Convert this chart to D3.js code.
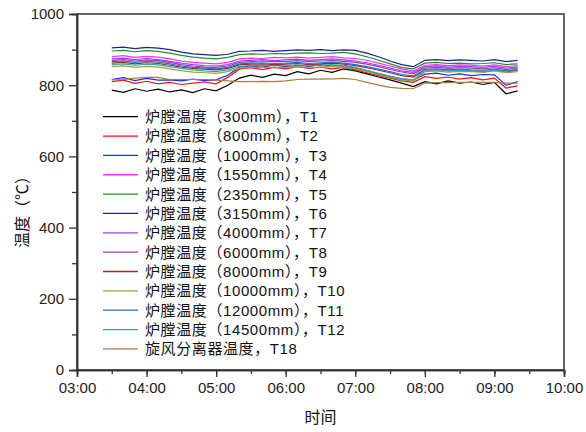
<!DOCTYPE html>
<html>
<head>
<meta charset="utf-8">
<script src="https://cdn.jsdelivr.net/npm/d3@7"></script>
<style>
  body { margin: 0; background: #fff; }
  svg { display: block; }
</style>
</head>
<body>
<svg id="chart"></svg>
<script>
// sample times (every 10 min)
const times = ["03:30","03:40","03:50","04:00","04:10","04:20","04:30","04:40","04:50","05:00",
  "05:10","05:20","05:30","05:40","05:50","06:00","06:10","06:20","06:30","06:40",
  "06:50","07:00","07:10","07:20","07:30","07:40","07:50","08:00","08:10","08:20",
  "08:30","08:40","08:50","09:00","09:10","09:20"];

const labels = ["炉膛温度（300mm），T1","炉膛温度（800mm），T2","炉膛温度（1000mm），T3",
  "炉膛温度（1550mm），T4","炉膛温度（2350mm），T5","炉膛温度（3150mm），T6",
  "炉膛温度（4000mm），T7","炉膛温度（6000mm），T8","炉膛温度（8000mm），T9",
  "炉膛温度（10000mm），T10","炉膛温度（12000mm），T11","炉膛温度（14500mm），T12",
  "旋风分离器温度，T18"];

const colors = ["#000000","#ff1010","#1030ff","#ff30ff","#209020","#202090",
  "#9a40ff","#a040a0","#a02828","#a0a030","#2a6ad0","#30a8a8","#b07c3a"];

const T1  = [786,780,790,783,789,781,787,779,790,784,800,820,828,822,831,827,838,832,842,836,846,840,832,823,815,806,796,810,804,812,806,809,802,808,776,784];
const T2  = [810,814,805,811,804,808,802,806,809,804,822,845,849,844,850,846,852,847,851,846,850,843,835,827,820,812,808,824,819,823,817,821,815,820,792,798];
const T3  = [816,821,813,819,814,815,812,817,813,815,828,850,854,851,857,852,856,853,858,854,855,848,840,832,825,818,814,831,834,828,832,827,830,829,800,810];
const T4  = [880,883,878,881,879,874,868,864,862,860,864,874,876,875,878,877,879,876,878,880,877,875,870,862,854,846,840,856,858,855,857,856,854,857,852,855];
const T5  = [896,898,894,897,895,890,884,879,876,874,878,886,888,887,889,888,890,891,889,890,892,888,880,870,860,850,846,862,864,861,862,860,861,863,858,860];
const T6  = [905,907,903,906,904,900,893,888,886,884,887,895,896,898,895,897,899,898,900,897,899,898,890,880,868,858,852,870,872,869,871,870,868,872,866,870];
const T7  = [874,876,872,875,872,867,862,858,855,854,858,868,870,872,869,871,873,870,872,874,871,868,863,856,848,840,836,852,854,851,853,852,850,853,848,851];
const T8  = [870,872,868,871,869,864,858,854,851,850,854,864,866,868,866,867,869,866,868,870,867,864,859,852,844,837,832,848,850,847,849,848,846,849,844,847];
const T9  = [862,864,860,863,861,856,851,847,845,843,847,857,859,860,858,859,861,858,860,862,859,855,849,842,835,827,823,842,844,841,842,840,839,842,838,841];
const T10 = [852,854,850,853,851,846,841,837,835,833,838,848,850,851,849,850,852,849,851,853,850,846,839,830,822,815,812,838,840,837,839,838,836,840,835,838];
const T11 = [866,868,864,867,865,860,854,850,848,846,850,860,862,863,861,862,864,861,863,865,862,858,852,845,838,830,826,844,846,843,845,843,842,845,840,844];
const T12 = [858,860,856,859,857,852,847,843,840,838,843,853,855,856,854,855,857,854,856,858,855,850,842,833,825,818,815,842,844,840,842,841,839,843,838,850];
const T18 = [815,816,820,822,822,816,816,816,816,814,812,810,810,811,810,812,816,817,817,818,819,816,808,800,794,791,790,806,807,807,808,808,808,808,806,806];

const series = [T1,T2,T3,T4,T5,T6,T7,T8,T9,T10,T11,T12,T18];
const yTicks = [0,200,400,600,800,1000];

const W = 586, H = 432;
const m = {left: 77, right: 22, top: 14, bottom: 62};
const parse = d3.timeParse("%H:%M");

const svg = d3.select("#chart").attr("width", W).attr("height", H);

const x = d3.scaleTime()
  .domain([parse("03:00"), parse("10:00")])
  .range([m.left, W - m.right]);
const y = d3.scaleLinear()
  .domain([0, 1000])
  .range([H - m.bottom, m.top]);

const font = "'Liberation Sans', Arial, 'Noto Sans CJK SC', sans-serif";

// data lines
const line = d3.line()
  .x((d, i) => x(parse(times[i])))
  .y(d => y(d));

svg.append("g").selectAll("path")
  .data(series)
  .join("path")
  .attr("d", d => line(d))
  .attr("fill", "none")
  .attr("stroke", (d, i) => colors[i])
  .attr("stroke-width", 1.2);

// frame
svg.append("rect")
  .attr("x", m.left).attr("y", m.top)
  .attr("width", W - m.right - m.left)
  .attr("height", H - m.bottom - m.top)
  .attr("fill", "none")
  .attr("stroke", "#333")
  .attr("stroke-width", 1.5);

// x axis
svg.append("g")
  .attr("transform", `translate(0,${H - m.bottom})`)
  .call(d3.axisBottom(x).ticks(d3.timeHour.every(1)).tickFormat(d3.timeFormat("%H:%M")).tickSize(7).tickPadding(5));
svg.append("g")
  .attr("transform", `translate(0,${H - m.bottom})`)
  .call(d3.axisBottom(x).ticks(d3.timeMinute.every(30)).tickFormat("").tickSize(4));

// y axis
svg.append("g")
  .attr("transform", `translate(${m.left},0)`)
  .call(d3.axisLeft(y).tickValues(yTicks).tickFormat(d3.format("d")).tickSize(8).tickPadding(5));
svg.append("g")
  .attr("transform", `translate(${m.left},0)`)
  .call(d3.axisLeft(y).tickValues(d3.range(100, 1000, 200)).tickFormat("").tickSize(5));

svg.selectAll(".domain").attr("stroke", "#333").attr("stroke-width", 1.5);
svg.selectAll(".tick line").attr("stroke", "#333").attr("stroke-width", 1.3);
svg.selectAll(".tick text")
  .attr("font-family", font)
  .attr("font-size", 15)
  .attr("fill", "#222");

// axis titles
svg.append("text")
  .attr("x", (m.left + W - m.right) / 2)
  .attr("y", 423)
  .attr("text-anchor", "middle")
  .attr("font-family", font)
  .attr("font-size", 16)
  .attr("fill", "#111")
  .text("时间");

svg.append("text")
  .attr("transform", "translate(28,208) rotate(-90)")
  .attr("text-anchor", "middle")
  .attr("font-family", font)
  .attr("font-size", 16)
  .attr("fill", "#111")
  .text("温度（℃）");

// legend
const legend = svg.append("g").selectAll("g")
  .data(labels)
  .join("g")
  .attr("transform", (d, i) => `translate(103,${116.7 + i * 19.35})`);

legend.append("line")
  .attr("x1", 0).attr("x2", 35)
  .attr("stroke", (d, i) => colors[i])
  .attr("stroke-width", 1.3);

legend.append("text")
  .attr("x", 42)
  .attr("dy", "0.36em")
  .attr("font-family", font)
  .attr("font-size", 15)
  .attr("letter-spacing", 0.6)
  .attr("fill", "#111")
  .text(d => d);
</script>
</body>
</html>
